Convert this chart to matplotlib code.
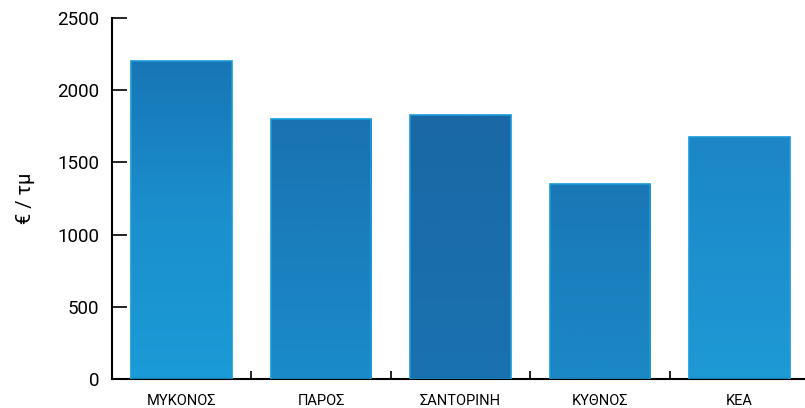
import matplotlib.pyplot as plt
import numpy as np
from matplotlib.colors import LinearSegmentedColormap

islands = ["ΜΥΚΟΝΟΣ", "ΠΑΡΟΣ", "ΣΑΝΤΟΡΙΝΗ", "ΚΥΘΝΟΣ", "ΚΕΑ"]
prices = [2200, 1800, 1830, 1350, 1675]

# top -> middle -> bottom colour for each bar
bar_colors = [
    ["#1876b6", "#1b90cd", "#1a9bd7"],
    ["#1a72b2", "#1a7fbe", "#1b8cc9"],
    ["#1a68a6", "#1a6dab", "#1b72b0"],
    ["#1a77b6", "#1b80bf", "#1b88c6"],
    ["#1c86c6", "#1d90ce", "#1e9ad5"],
]

plt.rcParams["font.family"] = ["Roboto", "DejaVu Sans"]

fig = plt.figure(figsize=(8.05, 4.08), dpi=100)
ax = fig.add_axes([0.139, 0.071, 0.866, 0.885])

x = np.arange(len(islands))
bars = ax.bar(x, prices, width=0.72, color="none", edgecolor="#1a9ad8", linewidth=1.2, zorder=3)

grad = np.linspace(0, 1, 256).reshape(-1, 1)
for bar, cols in zip(bars, bar_colors):
    cmap = LinearSegmentedColormap.from_list("g", cols)
    x0, w, h = bar.get_x(), bar.get_width(), bar.get_height()
    im = ax.imshow(grad, cmap=cmap, aspect="auto", extent=(x0, x0 + w, 0, h),
                   origin="upper", zorder=2)
    im.set_clip_path(bar)

ax.set_xlim(-0.5, 4.5)
ax.set_ylim(0, 2500)
ax.set_yticks([0, 500, 1000, 1500, 2000, 2500])
ax.set_xticks(x)
ax.set_xticklabels(islands, fontsize=10.5)
ax.set_xticks(x[:-1] + 0.5, minor=True)

ax.tick_params(axis="x", which="major", length=0, pad=11)
ax.tick_params(axis="x", which="minor", direction="in", length=6, width=1.2)
ax.tick_params(axis="y", direction="in", length=11, width=1.2, labelsize=13.5, pad=9)

for side in ["top", "right"]:
    ax.spines[side].set_visible(False)
for side in ["left", "bottom"]:
    ax.spines[side].set_linewidth(1.5)

ax.set_ylabel("€ / τμ", fontsize=14.5, labelpad=16)

plt.savefig("out.png", dpi=100)
plt.close()
